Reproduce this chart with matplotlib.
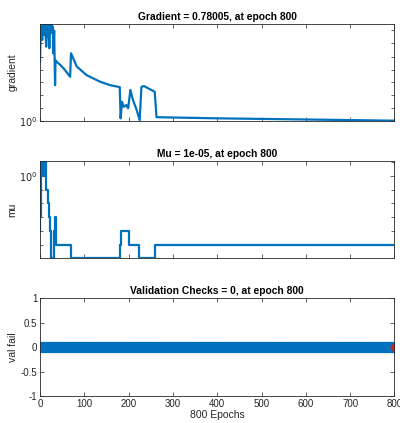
import matplotlib
matplotlib.use('Agg')
import matplotlib.pyplot as plt
from matplotlib.ticker import FixedLocator, NullFormatter

plt.rcParams['font.family'] = ['Liberation Sans', 'DejaVu Sans']

# gradient per epoch
grad_epochs = [0, 2, 3, 5, 7, 9, 11, 14, 16, 17, 19, 21, 23, 25, 26, 28, 29, 30, 32, 34, 35,
               36, 45, 53, 60, 68, 70, 83, 105, 135, 158, 180, 182, 185, 189, 195, 199,
               204, 210, 218, 225, 229, 235, 259, 263, 400, 600, 800]
grad_values = [2.68, 5.3, 4.6, 3.85, 5.3, 4.18, 5.3, 3.44, 5.3, 4.06, 5.0, 3.35, 4.8, 4.55, 5.0,
               4.30, 4.8, 3.08, 4.5, 1.81, 2.75,
               2.70, 2.55, 2.40, 2.25, 2.08, 3.08, 2.47, 2.14, 1.92, 1.81, 1.75, 1.04, 1.37, 1.26,
               1.30, 1.23, 1.67, 1.41, 1.20, 1.01, 1.76, 1.78, 1.62, 1.06, 1.04, 1.02, 1.0]
grad_minor = [1.23, 1.53, 1.92, 2.33, 2.91, 3.64, 4.55]

# mu (step changes)
mu_epochs = [0, 1, 2, 4, 5, 6, 7, 9, 10, 11, 12, 13, 14, 19, 21, 23, 24, 25, 32, 33, 35, 36,
             70, 181, 183, 201, 224, 260, 800]
mu_values = [1e-4, 1e-3, 10, 1, 10, 1, 10, 1, 10, 1, 10, 1, 0.1, 1e-2, 1e-3, 1e-4, 1e-5, 1e-6,
             1e-4, 1e-3, 1e-4, 1e-5, 1e-6, 1e-5, 1e-4, 1e-5, 1e-6, 1e-5, 1e-5]
mu_minor = [1e-5, 1e-4, 1e-3, 1e-2, 1e-1, 1e1]

# validation checks: 0 at every epoch
val_epochs = list(range(0, 801))
val_fail = [0] * 801

xticks = [0, 100, 200, 300, 400, 500, 600, 700, 800]
blue = '#0072BD'
axcol = '#262626'

fig = plt.figure(figsize=(4.0, 4.23), dpi=100)
ax1 = fig.add_axes([0.10, 0.7147, 0.886, 0.228])
ax2 = fig.add_axes([0.10, 0.3894, 0.886, 0.230])
ax3 = fig.add_axes([0.10, 0.0638, 0.886, 0.2317])

for ax in (ax1, ax2, ax3):
    ax.set_xlim(0, 800)
    ax.set_xticks(xticks)
    ax.tick_params(direction='in', top=True, right=True, length=3, width=0.5,
                   labelsize=7, colors=axcol, labelcolor=axcol, pad=2)
    ax.tick_params(which='minor', direction='in', right=True, left=True, length=2, width=0.5, colors=axcol)
    for s in ax.spines.values():
        s.set_linewidth(0.6)
        s.set_color(axcol)

# gradient
ax1.plot(grad_epochs, grad_values, color=blue, lw=1.6)
ax1.set_yscale('log')
ax1.set_ylim(1, 5)
ax1.yaxis.set_major_locator(FixedLocator([1]))
ax1.yaxis.set_minor_locator(FixedLocator(grad_minor))
ax1.yaxis.set_minor_formatter(NullFormatter())
ax1.set_yticklabels(['$10^0$'])
ax1.set_xticklabels([])
ax1.set_ylabel('gradient', fontsize=7.5, color=axcol, labelpad=1)
ax1.set_title('Gradient = 0.78005, at epoch 800', fontsize=7.4, fontweight='bold', pad=3)

# mu
ax2.step(mu_epochs, mu_values, where='post', color=blue, lw=1.6)
ax2.set_yscale('log')
ax2.set_ylim(1e-6, 12)
ax2.yaxis.set_major_locator(FixedLocator([1]))
ax2.yaxis.set_minor_locator(FixedLocator(mu_minor))
ax2.yaxis.set_minor_formatter(NullFormatter())
ax2.set_yticklabels(['$10^0$'])
ax2.set_xticklabels([])
ax2.set_ylabel('mu', fontsize=7.5, color=axcol, labelpad=1)
ax2.set_title('Mu = 1e-05, at epoch 800', fontsize=7.4, fontweight='bold', pad=3)

# validation checks
ax3.plot(val_epochs, val_fail, color=blue, lw=1.2, marker='o', ms=7, mfc=blue, mec=blue)
ax3.plot(val_epochs[-1], val_fail[-1], 'o', ms=4.5, mfc='#D62020', mec='#D62020')
ax3.set_ylim(-1, 1)
ax3.set_yticks([-1, -0.5, 0, 0.5, 1])
ax3.set_yticklabels(['-1', '-0.5', '0', '0.5', '1'])
ax3.set_ylabel('val fail', fontsize=7.5, color=axcol, labelpad=2)
ax3.set_xlabel('800 Epochs', fontsize=7.5, color=axcol, labelpad=1)
ax3.set_title('Validation Checks = 0, at epoch 800', fontsize=7.4, fontweight='bold', pad=3)

fig.savefig('out.png', dpi=100)
